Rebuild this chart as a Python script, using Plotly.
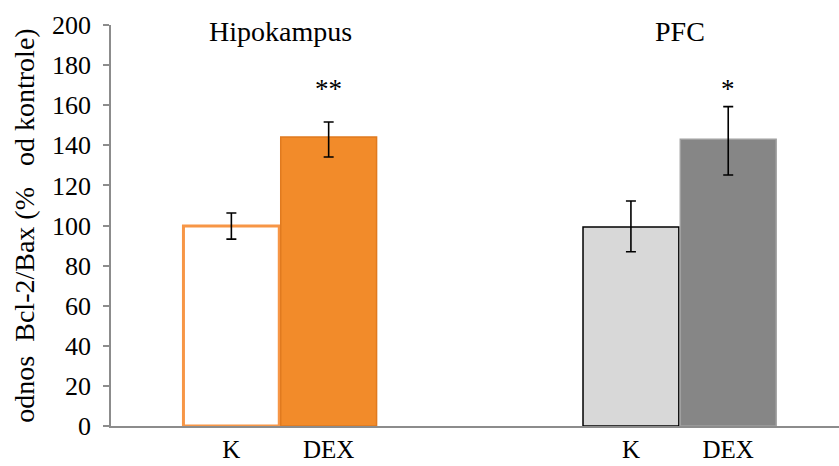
import plotly.graph_objects as go

# ---- data ----
regions = ["Hipokampus", "PFC"]
groups = ["K", "DEX"]
k_values = [99.7, 99.2]
k_err_plus = [6.5, 13.0]
k_err_minus = [6.5, 12.3]
dex_values = [144.2, 143.0]
dex_err_plus = [7.4, 16.3]
dex_err_minus = [10.0, 17.8]
significance = ["**", "*"]
y_ticks = list(range(0, 201, 20))
y_title = "odnos\u00a0 Bcl-2/Bax (%\u00a0\u00a0 od kontrole)"

# ---- styles ----
FONT = "Liberation Serif, Times New Roman, serif"
BARGAP = 0.513
half = (1 - BARGAP) / 4.0
pos = list(range(len(regions)))

fig = go.Figure()
fig.add_trace(go.Bar(
    x=pos, y=k_values, name=groups[0],
    marker=dict(color=["#FFFFFF", "#D8D8D8"],
                line=dict(color=["#F79646", "#000000"], width=[3, 1.5])),
    error_y=dict(type="data", symmetric=False, array=k_err_plus, arrayminus=k_err_minus,
                 color="#000000", thickness=1.6, width=5),
))
fig.add_trace(go.Bar(
    x=pos, y=dex_values, name=groups[1],
    marker=dict(color=["#F28B2A", "#868686"],
                line=dict(color=["#E07A1F", "#A0A0A0"], width=[1.5, 1.5])),
    error_y=dict(type="data", symmetric=False, array=dex_err_plus, arrayminus=dex_err_minus,
                 color="#000000", thickness=1.6, width=5),
))

tickvals, ticktext = [], []
for p in pos:
    tickvals += [p - half, p + half]
    ticktext += groups

annotations = []
for p, r in zip(pos, regions):
    annotations.append(dict(x=p, y=197, xref="x", yref="y", text=r, showarrow=False,
                            font=dict(family=FONT, size=28, color="#000000")))
for p, s in zip(pos, significance):
    annotations.append(dict(x=p + half, y=168, xref="x", yref="y", text=s, showarrow=False,
                            font=dict(family=FONT, size=27, color="#000000")))

fig.update_layout(
    width=839, height=466,
    margin=dict(l=111, r=0, t=25, b=40),
    paper_bgcolor="white", plot_bgcolor="white",
    barmode="group", bargap=BARGAP, bargroupgap=0.015,
    showlegend=False,
    font=dict(family=FONT, color="#000000"),
    annotations=annotations,
)
fig.update_xaxes(
    range=[-0.423, 1.399], tickmode="array", tickvals=tickvals, ticktext=ticktext,
    showline=True, linecolor="#8C8C8C", linewidth=1.5, showgrid=False, zeroline=False,
    ticks="", ticklabelstandoff=0, automargin=False,
    tickfont=dict(family=FONT, size=25, color="#000000"),
)
fig.update_yaxes(
    range=[0, 200], tickmode="array", tickvals=y_ticks,
    showline=True, linecolor="#8C8C8C", linewidth=1.5, showgrid=False, zeroline=False,
    ticks="outside", ticklen=6, tickcolor="#8C8C8C", tickwidth=1.5, automargin=False,
    ticklabelstandoff=7,
    tickfont=dict(family=FONT, size=26, color="#000000"),
    title=dict(text=y_title, font=dict(family=FONT, size=28, color="#000000"), standoff=9),
)

fig.write_html("out.html", config={"displayModeBar": False},
               post_script="document.body.style.margin='0';document.body.style.padding='0';")
